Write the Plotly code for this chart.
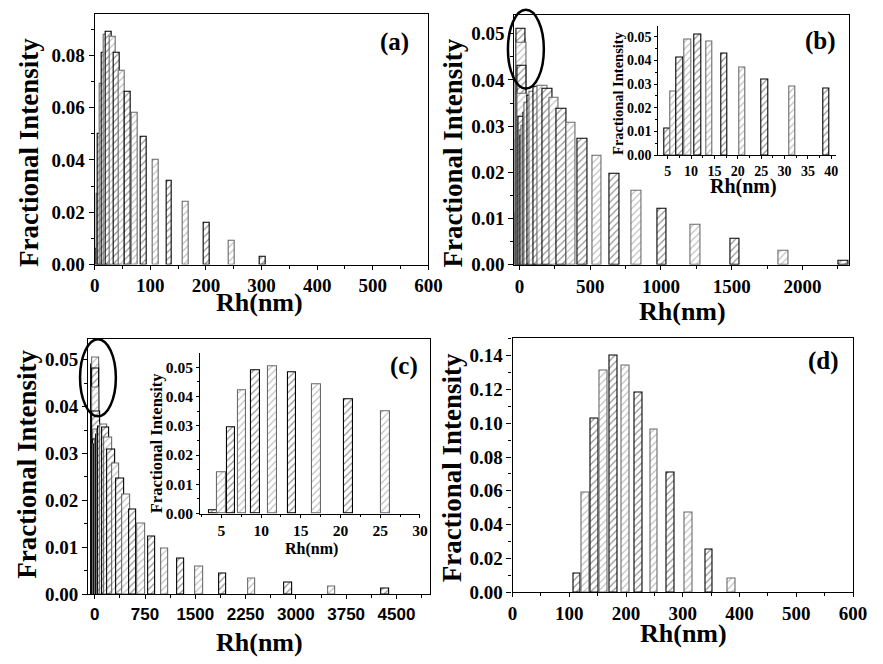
import plotly.graph_objects as go

# ---------------- data ----------------
# (a)
rh_a = [7.6, 9.3, 11.4, 14.0, 17.2, 21.1, 25.9, 31.8, 39.0, 47.8, 58.8, 72.4,
        88.6, 109, 134, 164, 201, 246, 302]
fi_a = [0.006, 0.027, 0.050, 0.069, 0.081, 0.088, 0.089, 0.087, 0.081, 0.074,
        0.066, 0.058, 0.049, 0.040, 0.032, 0.024, 0.016, 0.009, 0.003]

# (b)
rh_b = [5.0, 6.2, 7.6, 9.3, 11.4, 13.9, 17.1, 21.0, 25.8, 31.7, 38.9, 47.8,
        58.6, 71.9, 88.1, 108, 132, 162, 199, 244, 298, 363, 444, 547, 672,
        828, 1006, 1243, 1524, 1867, 2290]
fi_b = [0.011, 0.027, 0.041, 0.049, 0.051, 0.048, 0.043, 0.037, 0.032, 0.029,
        0.028, 0.030, 0.033, 0.035, 0.0365, 0.0375, 0.0385, 0.0388, 0.0381,
        0.0362, 0.0338, 0.0308, 0.0273, 0.0236, 0.0198, 0.0160, 0.0122,
        0.0087, 0.0056, 0.0030, 0.0009]

# (c)
rh_c = [4.0, 5.0, 6.2, 7.6, 9.3, 11.4, 13.9, 17.0, 21.0, 25.7, 31.6, 38.8,
        47.6, 58.4, 71.6, 87.8, 108, 132, 162, 199, 248, 311, 382, 465, 569,
        690, 851, 1040, 1279, 1561, 1906, 2339, 2884, 3531, 4334]
fi_c = [0.001, 0.014, 0.0296, 0.042, 0.049, 0.0504, 0.0482, 0.044, 0.039,
        0.035, 0.033, 0.032, 0.032, 0.033, 0.034, 0.035, 0.0358, 0.0362,
        0.0355, 0.0334, 0.0309, 0.0278, 0.0247, 0.0213, 0.0181, 0.0150,
        0.0122, 0.0097, 0.0077, 0.0058, 0.0044, 0.0034, 0.0024, 0.0017, 0.0013]

# (d)
rh_d = [114, 129, 144, 160, 178, 199, 222, 249, 278, 310, 346, 386]
fi_d = [0.011, 0.059, 0.103, 0.131, 0.140, 0.134, 0.118, 0.096, 0.071,
        0.047, 0.025, 0.008]

# ---------------- layout helpers ----------------
W, H = 883, 664
SERIF = "Liberation Serif"
SANS = "Liberation Sans"


def fx(p):
    return p / W


def fy(p):
    return 1 - p / H


def bars(x, y, width, xa, ya):
    n = len(x)
    edge = ["#000000" if i % 2 == 0 else "#6a6a6a" for i in range(n)]
    hatch = ["#1a1a1a" if i % 2 == 0 else "#7a7a7a" for i in range(n)]
    return go.Bar(
        x=x, y=y, width=width, xaxis=xa, yaxis=ya,
        marker=dict(
            color="white",
            line=dict(color=edge, width=1.1),
            pattern=dict(shape="/", fgcolor=hatch, bgcolor="white",
                         size=5, solidity=0.22),
        ),
        showlegend=False, hoverinfo="x+y",
    )


fig = go.Figure()
fig.add_trace(bars(rh_a, fi_a, 10.5, "x", "y"))
fig.add_trace(bars(rh_b, fi_b, 67, "x2", "y2"))
fig.add_trace(bars(rh_c, fi_c, 112, "x3", "y3"))
fig.add_trace(bars(rh_d, fi_d, 13.3, "x4", "y4"))
fig.add_trace(bars(rh_b, fi_b, 1.4, "x5", "y5"))
fig.add_trace(bars(rh_c, fi_c, 1.1, "x6", "y6"))


def main_x(dom, rng, dtick, minor, anchor, family=SERIF, size=19):
    return dict(domain=[fx(dom[0]), fx(dom[1])], range=rng, anchor=anchor,
                dtick=dtick, tick0=0, showline=True, linecolor="black",
                linewidth=1.2, mirror=True, ticks="outside", ticklen=4,
                tickcolor="black", showgrid=False, zeroline=False,
                minor=dict(ticks="outside", ticklen=3, dtick=minor,
                           tickcolor="black"),
                tickfont=dict(family=family, size=size, color="black",
                              weight="bold"))


def main_y(dom, rng, dtick, minor, anchor, size=19):
    return dict(domain=[fy(dom[1]), fy(dom[0])], range=rng, anchor=anchor,
                dtick=dtick, tick0=0, tickformat=".2f", showline=True,
                linecolor="black", linewidth=1.2, mirror=True,
                ticks="outside", ticklen=5, tickcolor="black",
                showgrid=False, zeroline=False,
                minor=dict(ticks="outside", ticklen=3, dtick=minor,
                           tickcolor="black"),
                tickfont=dict(family=SERIF, size=size, color="black",
                              weight="bold"))


def inset_x(dom, rng, anchor, size):
    return dict(domain=[fx(dom[0]), fx(dom[1])], range=rng, anchor=anchor,
                dtick=5, tick0=0, showline=True, linecolor="black",
                linewidth=1, mirror=False, ticks="outside", ticklen=3,
                tickcolor="black", showgrid=False, zeroline=False,
                minor=dict(ticks="outside", ticklen=2, dtick=2.5,
                           tickcolor="black"),
                tickfont=dict(family=SERIF, size=size, color="black",
                              weight="bold"))


def inset_y(dom, rng, anchor, size):
    return dict(domain=[fy(dom[1]), fy(dom[0])], range=rng, anchor=anchor,
                dtick=0.01, tick0=0, tickformat=".2f", showline=True,
                linecolor="black", linewidth=1, mirror=False,
                ticks="outside", ticklen=3, tickcolor="black",
                showgrid=False, zeroline=False,
                minor=dict(ticks="outside", ticklen=2, dtick=0.005,
                           tickcolor="black"),
                tickfont=dict(family=SERIF, size=size, color="black",
                              weight="bold"))


fig.update_layout(
    width=W, height=H, margin=dict(l=0, r=0, t=0, b=0),
    paper_bgcolor="white", plot_bgcolor="rgba(0,0,0,0)",
    barmode="overlay", bargap=0,
    xaxis=main_x((91.7, 432.7), [0, 600], 100, 50, "y"),
    yaxis=main_y((14, 269), [0, 0.0959], 0.02, 0.01, "x"),
    xaxis2=main_x((520.7, 862.7), [-35, 2330], 500, 250, "y2"),
    yaxis2=main_y((15, 269.3), [0, 0.0541], 0.01, 0.005, "x2"),
    xaxis3=main_x((85, 434.3), [-98, 5000], 750, 375, "y3", family=SANS,
                  size=17),
    yaxis3=main_y((344.3, 604.3), [0, 0.0545], 0.01, 0.005, "x3"),
    xaxis4=main_x((518.7, 866.7), [0, 600], 100, 50, "y4"),
    yaxis4=main_y((343.3, 602.3), [0, 0.1506], 0.02, 0.01, "x4"),
    xaxis5=inset_x((667.7, 849.3), [3, 41], "y5", 14),
    yaxis5=inset_y((26, 157.7), [0, 0.0547], "x5", 14),
    xaxis6=inset_x((199.3, 424), [2.3, 30], "y6", 15.5),
    yaxis6=inset_y((359.3, 522.3), [0, 0.0547], "x6", 15.5),
)

annotations = []


def text(t, x, y, size, angle=0):
    annotations.append(dict(
        text=t, x=fx(x), y=fy(y), xref="paper", yref="paper",
        xanchor="center", yanchor="middle", showarrow=False, textangle=angle,
        font=dict(family=SERIF, size=size, color="black", weight="bold")))


# panel labels
text("(a)", 398, 43, 25)
text("(b)", 833, 42, 25)
text("(c)", 408, 372, 25)
text("(d)", 837, 367, 25)

# axis titles of the four panels
text("Fractional Intensity", 25, 155, 27, -90)
text("Fractional Intensity", 458, 156, 27, -90)
text("Fractional Intensity", 23, 472, 27, -90)
text("Fractional Intensity", 457, 476, 27, -90)
text("Rh(nm)", 260, 308, 26)
text("Rh(nm)", 692, 317, 26)
text("Rh(nm)", 260, 653, 26)
text("Rh(nm)", 693, 644, 26)

# inset axis titles
text("Fractional Intensity", 627, 95, 14.5, -90)
text("Rh(nm)", 755, 190, 20)
text("Fractional Intensity", 155, 450, 16.5, -90)
text("Rh(nm)", 313, 558, 16)

fig.update_layout(annotations=annotations)

# ellipses marking the small-size region that the insets enlarge
for x0, y0, x1, y1 in [(514, 10, 550.7, 90), (76.7, 345, 113.3, 423.3)]:
    fig.add_shape(type="circle", xref="paper", yref="paper",
                  x0=fx(x0), x1=fx(x1), y0=fy(y1), y1=fy(y0),
                  line=dict(color="black", width=2.5), layer="above")

fig.write_html("out.html")
